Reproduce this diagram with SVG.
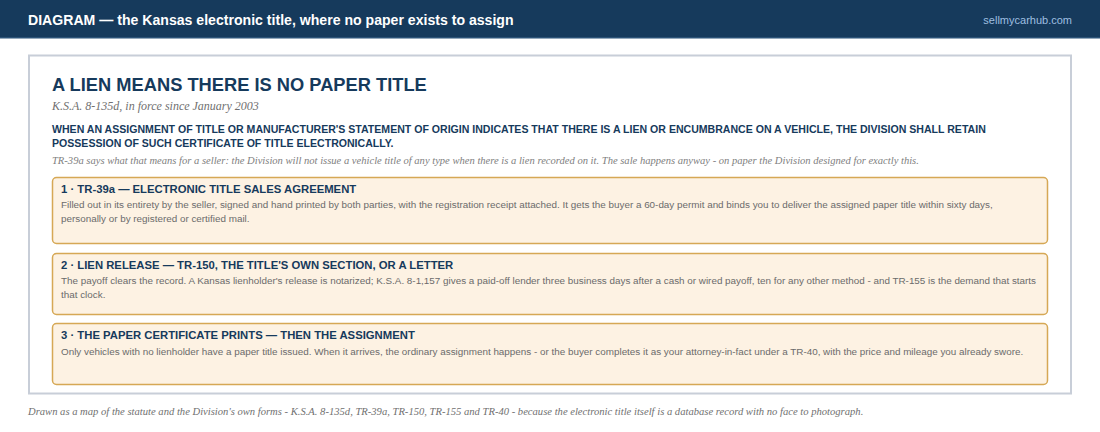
<svg xmlns="http://www.w3.org/2000/svg" width="1100" height="432" viewBox="0 0 1100 432">
<style>
.sans{font-family:"Liberation Sans",Arial,sans-serif}
.serif{font-family:"Liberation Serif","Times New Roman",serif;font-style:italic}
.box{fill:#fdf2e3;stroke:#d6a855;stroke-width:1.5}
.bt{font-family:"Liberation Sans",Arial,sans-serif;font-weight:bold;font-size:11.3px;fill:#163a5c}
.bb{font-family:"Liberation Sans",Arial,sans-serif;font-size:9.87px;fill:#6b6b6b}
</style>
<rect x="0" y="0" width="1100" height="432" fill="#ffffff"/>
<g id="header">
<rect x="0" y="0" width="1100" height="38" fill="#163a5c"/>
<rect x="0" y="37" width="1100" height="1.5" fill="#2b5277"/>
<text x="28" y="25" class="sans" font-size="14.1" font-weight="bold" fill="#ffffff">DIAGRAM — the Kansas electronic title, where no paper exists to assign</text>
<text x="1072" y="24" class="sans" font-size="11" fill="#9fbfe0" text-anchor="end">sellmycarhub.com</text>
</g>
<g id="panel">
<rect x="29" y="55.5" width="1042" height="338" fill="#ffffff" stroke="#c8ced8" stroke-width="2"/>
<text x="52" y="91" class="sans" font-size="18.3" font-weight="bold" fill="#163a5c">A LIEN MEANS THERE IS NO PAPER TITLE</text>
<text x="52" y="110" class="serif" font-size="12" fill="#707070">K.S.A. 8-135d, in force since January 2003</text>
<text x="52" y="133" class="sans" font-size="10.57" font-weight="bold" fill="#163a5c">WHEN AN ASSIGNMENT OF TITLE OR MANUFACTURER'S STATEMENT OF ORIGIN INDICATES THAT THERE IS A LIEN OR ENCUMBRANCE ON A VEHICLE, THE DIVISION SHALL RETAIN</text>
<text x="52" y="147" class="sans" font-size="10.57" font-weight="bold" fill="#163a5c">POSSESSION OF SUCH CERTIFICATE OF TITLE ELECTRONICALLY.</text>
<text x="52" y="164" class="serif" font-size="10.57" fill="#808080">TR-39a says what that means for a seller: the Division will not issue a vehicle title of any type when there is a lien recorded on it. The sale happens anyway - on paper the Division designed for exactly this.</text>
</g>
<g id="step1">
<rect x="52.5" y="177.5" width="995" height="66" rx="4" class="box"/>
<text x="61" y="193" class="bt">1 · TR-39a — ELECTRONIC TITLE SALES AGREEMENT</text>
<text x="61" y="208" class="bb">Filled out in its entirety by the seller, signed and hand printed by both parties, with the registration receipt attached. It gets the buyer a 60-day permit and binds you to deliver the assigned paper title within sixty days,</text>
<text x="61" y="222" class="bb">personally or by registered or certified mail.</text>
</g>
<g id="step2">
<rect x="52.5" y="253.5" width="995" height="61" rx="4" class="box"/>
<text x="61" y="269" class="bt">2 · LIEN RELEASE — TR-150, THE TITLE'S OWN SECTION, OR A LETTER</text>
<text x="61" y="284" class="bb">The payoff clears the record. A Kansas lienholder's release is notarized; K.S.A. 8-1,157 gives a paid-off lender three business days after a cash or wired payoff, ten for any other method - and TR-155 is the demand that starts</text>
<text x="61" y="298" class="bb">that clock.</text>
</g>
<g id="step3">
<rect x="52.5" y="323.5" width="995" height="61" rx="4" class="box"/>
<text x="61" y="339" class="bt">3 · THE PAPER CERTIFICATE PRINTS — THEN THE ASSIGNMENT</text>
<text x="61" y="355" class="bb">Only vehicles with no lienholder have a paper title issued. When it arrives, the ordinary assignment happens - or the buyer completes it as your attorney-in-fact under a TR-40, with the price and mileage you already swore.</text>
</g>
<g id="connectors"></g>
<text x="28" y="415" class="serif" font-size="10.6" fill="#707070">Drawn as a map of the statute and the Division's own forms - K.S.A. 8-135d, TR-39a, TR-150, TR-155 and TR-40 - because the electronic title itself is a database record with no face to photograph.</text>
</svg>
